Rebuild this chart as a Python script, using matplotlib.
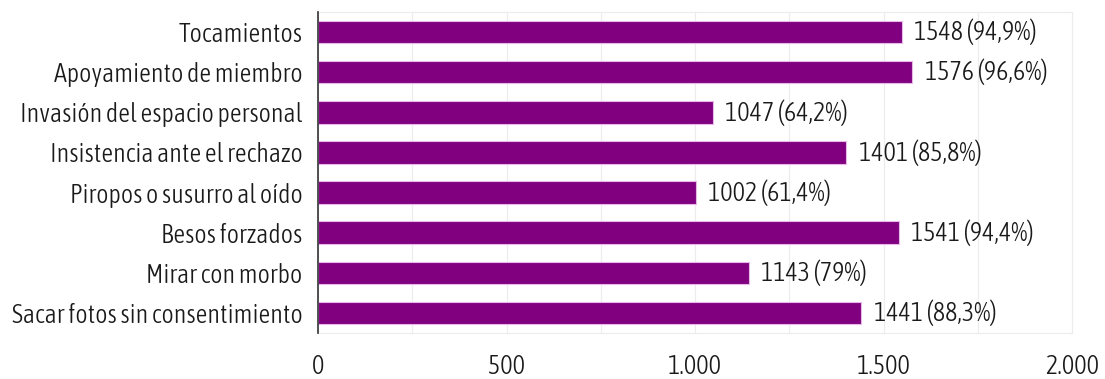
import matplotlib.pyplot as plt
from matplotlib import font_manager
from matplotlib.font_manager import FontProperties

# datos
categorias = ['Tocamientos', 'Apoyamiento de miembro', 'Invasión del espacio personal',
              'Insistencia ante el rechazo', 'Piropos o susurro al oído', 'Besos forzados',
              'Mirar con morbo', 'Sacar fotos sin consentimiento']
valores = [1548, 1576, 1047, 1401, 1002, 1541, 1143, 1441]
porcentajes = ['94,9%', '96,6%', '64,2%', '85,8%', '61,4%', '94,4%', '79%', '88,3%']
ticks_x = [0, 500, 1000, 1500, 2000]
ticks_txt = ['0', '500', '1.000', '1.500', '2.000']

# buscar una fuente estrecha (mejor si es la variante light)
candidatas = []
for f in font_manager.fontManager.ttflist:
    n = (f.name + ' ' + str(f.fname)).lower()
    if ('condensed' in n or 'narrow' in n) and not any(k in n for k in ('bold', 'oblique', 'italic', 'black', 'thin', 'extralight')):
        orden = 0 if 'light' in n else 1
        candidatas.append((orden, f.fname))
candidatas.sort()
prop = FontProperties(fname=candidatas[0][1]) if candidatas else FontProperties(family='DejaVu Sans')

fig = plt.figure(figsize=(11.05, 3.79), dpi=100)
ax = fig.add_axes([318 / 1105, 1 - 333 / 379, (1072 - 318) / 1105, (333 - 12) / 379])

# tamaño de letra según el ancho de la etiqueta más larga (~290 px)
r = fig.canvas.get_renderer()
prop.set_size(10)
t = fig.text(0, 0, categorias[-1], fontproperties=prop)
ancho = t.get_window_extent(r).width
t.remove()
tam = min(22, 10 * 290 / ancho)
prop.set_size(tam)

y = list(range(len(categorias)))
ax.barh(y, valores, height=0.56, color='#800080', edgecolor='#e8b8e8', linewidth=0.8, zorder=3)
for yi, v, p in zip(y, valores, porcentajes):
    ax.annotate(f'{v} ({p})', (v, yi), xytext=(9, 0), textcoords='offset points',
                va='center', ha='left', fontproperties=prop, color='#1a1a1a')

ax.set_ylim(len(categorias) - 0.5, -0.5)
ax.set_xlim(0, 2000)
ax.set_yticks(y)
ax.set_yticklabels(categorias, fontproperties=prop, color='#1a1a1a')
ax.set_xticks(ticks_x)
ax.set_xticklabels(ticks_txt, fontproperties=prop, color='#1a1a1a')
ax.set_xticks(range(0, 2001, 250), minor=True)
ax.grid(axis='x', which='both', color='#ececec', linewidth=0.8, zorder=0)
ax.tick_params(axis='both', length=0, which='both')
ax.tick_params(axis='x', pad=15)
ax.tick_params(axis='y', pad=11)
for lado in ['top', 'right', 'bottom']:
    ax.spines[lado].set_color('#ececec')
ax.spines['left'].set_color('#333333')
ax.spines['left'].set_linewidth(1.2)
ax.spines['left'].set_zorder(4)

fig.savefig('out.png', dpi=100)
